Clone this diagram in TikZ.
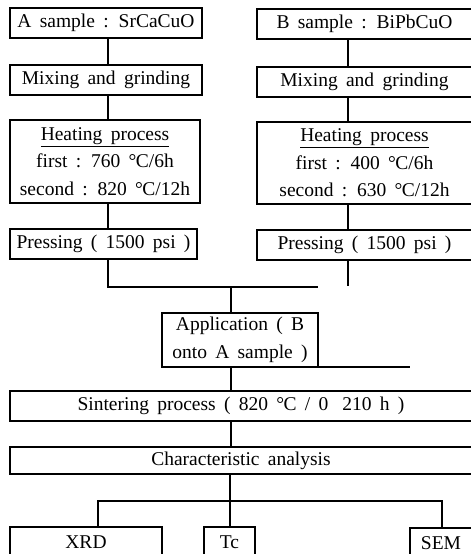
\documentclass[tikz,border=0pt]{standalone}
\usepackage{fontspec}
\setmainfont{Liberation Serif}[WordSpace=1.7]
\newcommand{\degC}{°\kern-0.6pt C}
\tikzset{
  box/.style={draw, line width=1.5pt, inner sep=0pt, outer sep=0pt, anchor=north west,
              font=\fontsize{19.5}{27.5}\selectfont, align=center},
  conn/.style={line width=1.5pt}
}
\begin{document}
\begin{tikzpicture}[x=1pt,y=-1pt]
\useasboundingbox (0,0) rectangle (471,554);
% left column
\node[box, minimum width=192pt, minimum height=30pt] (A) at (10,8) {A sample : SrCaCuO};
\node[box, minimum width=192pt, minimum height=30pt] (M1) at (10,65) {Mixing and grinding};
\node[box, minimum width=190pt, minimum height=83pt] (H1) at (10,120) {\underline{Heating process}\\first : 760 \degC/6h\\second : 820 \degC/12h};
\node[box, minimum width=187pt, minimum height=30pt] (P1) at (10,229) {Pressing ( 1500 psi )};
% right column
\node[box, minimum width=215pt, minimum height=30pt] (B) at (257,9) {B sample : BiPbCuO};
\node[box, minimum width=215pt, minimum height=30pt] (M2) at (257,67) {Mixing and grinding};
\node[box, minimum width=215pt, minimum height=82pt] (H2) at (257,122) {\underline{Heating process}\\first : 400 \degC/6h\\second : 630 \degC/12h};
\node[box, minimum width=215pt, minimum height=30pt] (P2) at (257,230) {Pressing ( 1500 psi )};
% middle
\node[box, minimum width=156pt, minimum height=54pt] (App) at (162,313) {Application ( B\\onto A sample )};
\node[box, minimum width=462pt, minimum height=30pt] (Sin) at (10,391) {Sintering process ( 820 \degC{} / 0\hspace{14pt}210 h )};
\node[box, minimum width=462pt, minimum height=27pt] (Char) at (10,447) {Characteristic analysis};
\node[box, minimum width=152pt, minimum height=30pt] (XRD) at (10,527) {XRD};
\node[box, minimum width=51pt, minimum height=30pt] (Tc) at (204,527) {Tc};
\node[box, minimum width=62pt, minimum height=30pt] (SEM) at (410,528) {SEM};
% coordinates
\coordinate (lx) at (108,0);
\coordinate (rx) at (348,0);
\coordinate (cx) at (231,0);
\coordinate (tx) at (230,0);
\coordinate (j1) at (318,287);
\coordinate (rb) at (348,286);
\coordinate (ae) at (410,367);
\coordinate (bl) at (98,501);
\coordinate (bR) at (442,501);
% connectors
\draw[conn] (A.south -| lx) -- (M1.north -| lx);
\draw[conn] (M1.south -| lx) -- (H1.north -| lx);
\draw[conn] (H1.south -| lx) -- (P1.north -| lx);
\draw[conn] (P1.south -| lx) |- (j1);
\draw[conn] (B.south -| rx) -- (M2.north -| rx);
\draw[conn] (M2.south -| rx) -- (H2.north -| rx);
\draw[conn] (H2.south -| rx) -- (P2.north -| rx);
\draw[conn] (P2.south -| rx) -- (rb);
\draw[conn] (j1 -| cx) -- (App.north -| cx);
\draw[conn] (App.south east) -- (ae);
\draw[conn] (App.south -| cx) -- (Sin.north -| cx);
\draw[conn] (Sin.south -| cx) -- (Char.north -| cx);
\draw[conn] (Char.south -| tx) -- (Tc.north -| tx);
\draw[conn] (XRD.north -| bl) -- (bl) -- (bR) -- (SEM.north -| bR);
\end{tikzpicture}
\end{document}
